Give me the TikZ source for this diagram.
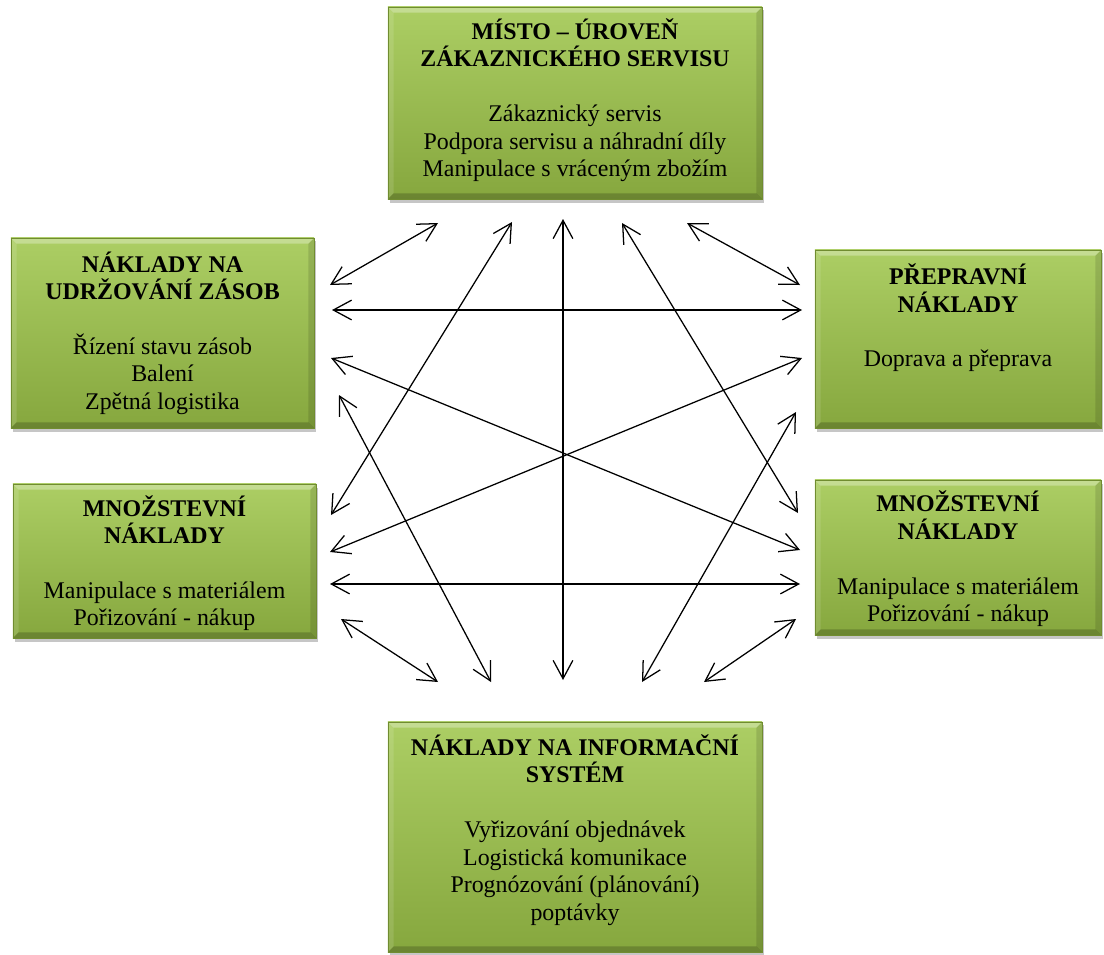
\documentclass[tikz,border=0pt]{standalone}
\usepackage{fontspec}
\setmainfont{Liberation Serif}
\usetikzlibrary{arrows.meta, shadows}
\definecolor{boxtop}{RGB}{172, 206, 100}
\definecolor{boxbot}{RGB}{134, 167, 62}
\definecolor{boxedge}{RGB}{112, 140, 48}

\tikzset{
  costbox/.style={draw=boxedge, line width=0.4pt, top color=boxtop, bottom color=boxbot, inner sep=0pt,
    drop shadow={shadow xshift=1.5pt, shadow yshift=-2.5pt, fill=black!50, opacity=0.45},
    path picture={
      \fill[white, opacity=0.3] (path picture bounding box.north west) -- (path picture bounding box.north east)
        -- ([xshift=-4pt, yshift=-4pt]path picture bounding box.north east) -- ([xshift=4pt, yshift=-4pt]path picture bounding box.north west) -- cycle;
      \fill[white, opacity=0.12] (path picture bounding box.north west) -- (path picture bounding box.south west)
        -- ([xshift=4pt, yshift=4pt]path picture bounding box.south west) -- ([xshift=4pt, yshift=-4pt]path picture bounding box.north west) -- cycle;
      \fill[black, opacity=0.2] (path picture bounding box.south west) -- (path picture bounding box.south east)
        -- ([xshift=-4pt, yshift=4pt]path picture bounding box.south east) -- ([xshift=4pt, yshift=4pt]path picture bounding box.south west) -- cycle;
      \fill[black, opacity=0.12] (path picture bounding box.north east) -- (path picture bounding box.south east)
        -- ([xshift=-4pt, yshift=4pt]path picture bounding box.south east) -- ([xshift=-4pt, yshift=-4pt]path picture bounding box.north east) -- cycle;
    }},
  costtext/.style={align=center, inner sep=0pt, font=\fontsize{17}{19.5}\selectfont},
  link/.style={>={Straight Barb[length=13pt, width=14pt]}, <->, line width=0.9pt}
}

\begin{document}
\begin{tikzpicture}[x=0.025cm, y=-0.025cm]
  \useasboundingbox (0,0) rectangle (1104,954);

  % Boxes
  \node[costbox, minimum width=9.35cm, minimum height=4.8cm] (misto) at (575,103) {};
  \node[costbox, minimum width=7.575cm, minimum height=4.75cm] (zasoby) at (162.5,333) {};
  \node[costbox, minimum width=7.15cm, minimum height=4.45cm] (preprava) at (958,339) {};
  \node[costbox, minimum width=7.575cm, minimum height=3.85cm] (mnozL) at (164.5,561) {};
  \node[costbox, minimum width=7.15cm, minimum height=3.875cm] (mnozR) at (958,557.5) {};
  \node[costbox, minimum width=9.35cm, minimum height=5.75cm] (infosys) at (575,837) {};

  % Texts
  \node[costtext] (misto-t) at ([yshift=2pt]misto.center)
    {\textbf{MÍSTO – ÚROVEŇ}\\\textbf{ZÁKAZNICKÉHO SERVISU}\\[19.5pt]
     Zákaznický servis\\Podpora servisu a náhradní díly\\Manipulace s vráceným zbožím};
  \node[costtext] (zasoby-t) at (zasoby.center)
    {\textbf{NÁKLADY NA}\\\textbf{UDRŽOVÁNÍ ZÁSOB}\\[19.5pt]
     Řízení stavu zásob\\Balení\\Zpětná logistika};
  \node[costtext] (preprava-t) at ([yshift=15pt]preprava.center)
    {\textbf{PŘEPRAVNÍ}\\\textbf{NÁKLADY}\\[19.5pt]
     Doprava a přeprava};
  \node[costtext] (mnozL-t) at ([yshift=-1.5pt]mnozL.center)
    {\textbf{MNOŽSTEVNÍ}\\\textbf{NÁKLADY}\\[19.5pt]
     Manipulace s materiálem\\Pořizování - nákup};
  \node[costtext] (mnozR-t) at ([yshift=-1pt]mnozR.center)
    {\textbf{MNOŽSTEVNÍ}\\\textbf{NÁKLADY}\\[19.5pt]
     Manipulace s materiálem\\Pořizování - nákup};
  \node[costtext] (infosys-t) at ([yshift=5pt]infosys.center)
    {\textbf{NÁKLADY NA INFORMAČNÍ}\\\textbf{SYSTÉM}\\[19.5pt]
     Vyřizování objednávek\\Logistická komunikace\\Prognózování (plánování)\\poptávky};

  % Arrow ends
  \coordinate (zas-mis) at (330,285);   \coordinate (mis-zas) at (438,223);
  \coordinate (mnL-mis) at (331,515);   \coordinate (mis-mnL) at (512,222);
  \coordinate (inf-mis) at (563,680);   \coordinate (mis-inf) at (563,219);
  \coordinate (mis-mnR) at (622,223);   \coordinate (mnR-mis) at (798,513);
  \coordinate (mis-pre) at (687,223);   \coordinate (pre-mis) at (800,285);
  \coordinate (zas-pre) at (332,310);   \coordinate (pre-zas) at (802,310);
  \coordinate (zas-mnR) at (331,358);   \coordinate (mnR-zas) at (800,550);
  \coordinate (pre-mnL) at (802,358);   \coordinate (mnL-pre) at (330,552);
  \coordinate (zas-inf) at (339,395);   \coordinate (inf-zas) at (491,682);
  \coordinate (pre-inf) at (796,412);   \coordinate (inf-pre) at (642,682);
  \coordinate (mnL-mnR) at (330,584);   \coordinate (mnR-mnL) at (800,584);
  \coordinate (mnL-inf) at (341,619);   \coordinate (inf-mnL) at (438,682);
  \coordinate (mnR-inf) at (796,619);   \coordinate (inf-mnR) at (704,682);

  % Links
  \draw[link] (zas-mis) -- (mis-zas);
  \draw[link] (mnL-mis) -- (mis-mnL);
  \draw[link] (inf-mis) -- (mis-inf);
  \draw[link] (mis-mnR) -- (mnR-mis);
  \draw[link] (mis-pre) -- (pre-mis);
  \draw[link] (zas-pre) -- (pre-zas);
  \draw[link] (zas-mnR) -- (mnR-zas);
  \draw[link] (pre-mnL) -- (mnL-pre);
  \draw[link] (zas-inf) -- (inf-zas);
  \draw[link] (pre-inf) -- (inf-pre);
  \draw[link] (mnL-mnR) -- (mnR-mnL);
  \draw[link] (mnL-inf) -- (inf-mnL);
  \draw[link] (mnR-inf) -- (inf-mnR);
\end{tikzpicture}
\end{document}
